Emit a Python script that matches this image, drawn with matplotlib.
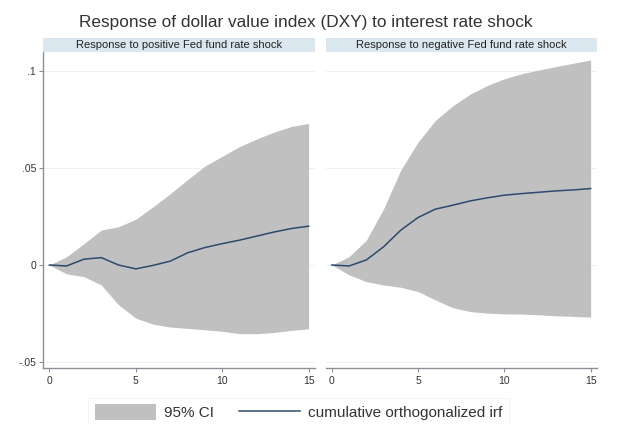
import matplotlib
matplotlib.use("Agg")
import matplotlib.pyplot as plt
from matplotlib.patches import Patch
from matplotlib.lines import Line2D

plt.rcParams['font.family'] = ['Liberation Sans', 'DejaVu Sans']

steps = list(range(16))

pos_irf = [0, -0.0005, 0.003, 0.0038, 0.0, -0.002, -0.0002, 0.002, 0.0063, 0.009,
           0.011, 0.0128, 0.0149, 0.017, 0.0188, 0.020]
pos_upper = [0, 0.0043, 0.011, 0.018, 0.0197, 0.0236, 0.030, 0.0368, 0.044, 0.051,
             0.056, 0.061, 0.065, 0.0685, 0.0714, 0.073]
pos_lower = [0, -0.0046, -0.006, -0.0103, -0.0205, -0.0274, -0.0305, -0.032, -0.0327,
             -0.0334, -0.0342, -0.0354, -0.0354, -0.0348, -0.0337, -0.0329]

neg_irf = [0, -0.0005, 0.0026, 0.0094, 0.018, 0.0245, 0.0288, 0.0308, 0.033, 0.0346,
           0.036, 0.0368, 0.0375, 0.0382, 0.0387, 0.0394]
neg_upper = [0, 0.0043, 0.0128, 0.029, 0.049, 0.0634, 0.0745, 0.082, 0.088, 0.0925,
             0.096, 0.0986, 0.1005, 0.1023, 0.104, 0.1057]
neg_lower = [0, -0.0051, -0.0086, -0.0103, -0.0115, -0.0137, -0.018, -0.022, -0.024,
             -0.0248, -0.0252, -0.0253, -0.0257, -0.0262, -0.0265, -0.0269]

yticks = [-0.05, 0, 0.05, 0.1]
ytick_labels = ['-.05', '0', '.05', '.1']
xticks = [0, 5, 10, 15]

panel_titles = ['Response to positive Fed fund rate shock',
                'Response to negative Fed fund rate shock']
title = 'Response of dollar value index (DXY) to interest rate shock'

W, H = 617, 424
fig = plt.figure(figsize=(W / 100, H / 100), dpi=100)
fig.patch.set_facecolor('white')

fill_col = '#c0c0c0'
line_col = '#2d4a6e'
strip_col = '#dbe7ee'
axis_col = '#8a9096'

panels = [
    (43, 315, pos_irf, pos_upper, pos_lower, True),
    (325.5, 597, neg_irf, neg_upper, neg_lower, False),
]
top, bottom = 52, 368
for i, (x0, x1, irf, up, lo, show_y) in enumerate(panels):
    ax = fig.add_axes([x0 / W, (H - bottom) / H, (x1 - x0) / W, (bottom - top) / H])
    ax.fill_between(steps, lo, up, color=fill_col, linewidth=0, zorder=2)
    ax.plot(steps, irf, color=line_col, linewidth=1.1, zorder=3)
    ax.set_xlim(-0.37, 15.37)
    ax.set_ylim(-0.0531, 0.1098)
    for yv in yticks:
        ax.axhline(yv, color='#ececec', linewidth=0.6, zorder=1)
    ax.set_xticks(xticks)
    ax.set_xticklabels([str(v) for v in xticks], fontsize=7.5, color='#333333')
    ax.set_yticks(yticks)
    if show_y:
        ax.set_yticklabels(ytick_labels, fontsize=7.5, color='#333333')
        ax.spines['left'].set_color(axis_col)
        ax.spines['left'].set_linewidth(1.0)
        ax.tick_params(axis='y', length=3, width=0.8, color=axis_col, pad=2)
    else:
        ax.spines['left'].set_visible(False)
        ax.tick_params(axis='y', left=False, labelleft=False)
    ax.spines['right'].set_visible(False)
    ax.spines['top'].set_visible(False)
    ax.spines['bottom'].set_color(axis_col)
    ax.spines['bottom'].set_linewidth(1.0)
    ax.tick_params(axis='x', length=3, width=0.8, color=axis_col, pad=3)
    # strip header
    sax = fig.add_axes([x0 / W, (H - 52) / H, (x1 - x0) / W, 14.5 / H])
    sax.set_facecolor(strip_col)
    for s in sax.spines.values():
        s.set_visible(False)
    sax.set_xticks([])
    sax.set_yticks([])
    sax.text(0.5, 0.5, panel_titles[i], ha='center', va='center', fontsize=8,
             color='#222222', transform=sax.transAxes)

fig.text(305.5 / W, 1 - 27.5 / H, title, ha='center', va='baseline', fontsize=12.45,
         color='#333333')

handles = [Patch(facecolor=fill_col, edgecolor='none', label='95% CI'),
           Line2D([0], [0], color=line_col, linewidth=1.1,
                  label='cumulative orthogonalized irf')]
leg = fig.legend(handles=handles, loc='center', bbox_to_anchor=(298.5 / W, 1 - 412 / H),
                 ncol=2, frameon=True, fontsize=11, handlelength=4.0,
                 handleheight=1.2, columnspacing=1.6, handletextpad=0.55,
                 borderpad=0.4, fancybox=False)
leg.get_frame().set_edgecolor('#f0f0f0')
leg.get_frame().set_linewidth(0.6)
for t in leg.get_texts():
    t.set_color('#333333')

fig.savefig('out.png', dpi=100, facecolor='white')
